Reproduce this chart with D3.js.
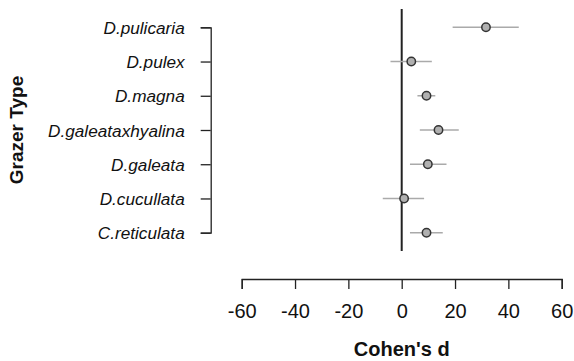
<!DOCTYPE html>
<html><head><meta charset="utf-8">
<script src="https://cdn.jsdelivr.net/npm/d3@7"></script>
<style>
html,body{margin:0;padding:0;background:#fff;}
text{font-family:"Liberation Sans",Arial,Helvetica,sans-serif;}
</style></head>
<body><svg id="chart" width="574" height="361"></svg>
<script>
const categories = ["D.pulicaria","D.pulex","D.magna","D.galeataxhyalina","D.galeata","D.cucullata","C.reticulata"];
const estimates = [31.6, 3.6, 9.3, 13.8, 9.8, 0.9, 9.3];
const lower = [19.1, -4.2, 5.9, 6.8, 3.1, -7.1, 3.1];
const upper = [43.9, 11.3, 12.6, 21.4, 16.8, 8.4, 15.4];
const xTicks = [-60,-40,-20,0,20,40,60];

const svg = d3.select("#chart");
const x = d3.scaleLinear().domain([-60,60]).range([241.7,561.7]);
const y = d3.scalePoint().domain(categories).range([27.3,232.7]);

const data = categories.map((c,i)=>({c, est:estimates[i], lo:lower[i], hi:upper[i]}));

// zero reference line
svg.append("line")
  .attr("x1", x(0)).attr("x2", x(0))
  .attr("y1", 9).attr("y2", 251)
  .attr("stroke","#222").attr("stroke-width",2);

// x axis
const xAxis = svg.append("g").attr("transform","translate(0,279)")
  .call(d3.axisBottom(x).tickValues(xTicks).tickSize(10).tickSizeOuter(10).tickFormat(d => String(d)));
xAxis.select(".domain").attr("stroke","#222").attr("stroke-width",1.3);
xAxis.selectAll(".tick line").attr("stroke","#222").attr("stroke-width",1.3);
xAxis.selectAll(".tick text").attr("y",31.7).attr("dy","0.35em")
  .style("font-size","20px").style("font-family","'Liberation Sans',Arial,sans-serif").attr("fill","#111");

// y axis
const yAxis = svg.append("g").attr("transform","translate(210.7,0)")
  .call(d3.axisLeft(y).tickSize(10).tickSizeOuter(10).tickPadding(16));
yAxis.select(".domain").attr("stroke","#222").attr("stroke-width",1.3);
yAxis.selectAll(".tick line").attr("stroke","#222").attr("stroke-width",1.3);
yAxis.selectAll(".tick text").attr("dy","0.35em")
  .style("font-size","17.2px").style("font-style","italic")
  .style("font-family","'Liberation Sans',Arial,sans-serif").attr("fill","#111");

// CI lines
svg.append("g").selectAll("line").data(data).join("line")
  .attr("x1", d=>x(d.lo)).attr("x2", d=>x(d.hi))
  .attr("y1", d=>y(d.c)).attr("y2", d=>y(d.c))
  .attr("stroke","#aaa").attr("stroke-width",1.5);

// points
svg.append("g").selectAll("circle").data(data).join("circle")
  .attr("cx", d=>x(d.est)).attr("cy", d=>y(d.c)).attr("r",4.2)
  .attr("fill","#b0b0b0").attr("stroke","#333").attr("stroke-width",1.5);

// axis titles
svg.append("text").attr("x",(x(-60)+x(60))/2).attr("y",348.5).attr("dy","0.35em")
  .attr("text-anchor","middle").style("font-size","20px").style("font-weight","bold")
  .attr("fill","#111").text("Cohen's d");
svg.append("text").attr("transform","translate(16.5,130) rotate(-90)").attr("dy","0.35em")
  .attr("text-anchor","middle").style("font-size","19px").style("font-weight","bold")
  .attr("fill","#111").text("Grazer Type");
</script>
</body></html>
